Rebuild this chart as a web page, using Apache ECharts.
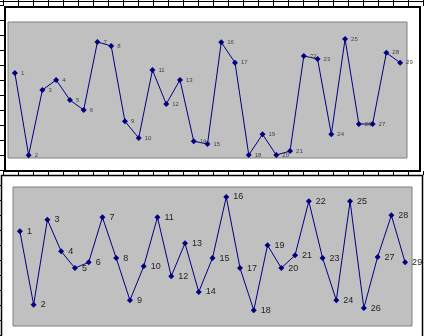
<!DOCTYPE html>
<html>
<head>
<meta charset="utf-8">
<style>
  html, body { margin: 0; padding: 0; background: #ffffff; }
  #chart { width: 424px; height: 336px; }
</style>
<script src="https://cdn.jsdelivr.net/npm/echarts@6/dist/echarts.min.js"></script>
</head>
<body>
<div id="chart"></div>
<script>
// Point numbers along the horizontal axis (shared by both charts)
const categories = ['1','2','3','4','5','6','7','8','9','10','11','12','13','14','15',
  '16','17','18','19','20','21','22','23','24','25','26','27','28','29'];

// Upper chart values
const upperValues = [6.25, 0.20, 5.00, 5.74, 4.26, 3.53, 8.53, 8.24, 2.70, 1.47,
  6.47, 3.97, 5.74, 1.23, 1.03, 8.51, 7.01, 0.22, 1.74, 0.22,
  0.51, 7.50, 7.28, 1.74, 8.75, 2.50, 2.50, 7.74, 7.01];

// Lower chart values
const lowerValues = [6.81, 1.53, 7.65, 5.37, 4.17, 4.58, 7.82, 4.89, 1.85, 4.29,
  7.82, 3.58, 5.95, 2.45, 4.89, 9.28, 4.17, 1.13, 5.81, 4.17,
  5.09, 8.97, 4.89, 1.85, 8.97, 1.29, 4.96, 7.96, 4.58];

const navy = '#000080';

// Worksheet cell lines around the two embedded charts
const sheetLines = [];
function hLine(x1, x2, y, w) {
  sheetLines.push({ type: 'line', z: 0, silent: true,
    shape: { x1: x1, y1: y, x2: x2, y2: y },
    style: { stroke: '#000', lineWidth: w || 1 } });
}
function vLine(x, y1, y2, w) {
  sheetLines.push({ type: 'line', z: 0, silent: true,
    shape: { x1: x, y1: y1, x2: x, y2: y2 },
    style: { stroke: '#000', lineWidth: w || 1 } });
}
// column header strip at the top and the strip between charts
hLine(0, 424, 1.5);
for (let x = 3.5; x < 424; x += 15) {
  vLine(x, 0, 6);
  vLine(x, 171, 175);
}
// row lines peeking out at the left edge
for (let y = 5.5; y < 336; y += 15) {
  if (y < 171) hLine(0, 4, y);
  else if (y > 176) hLine(0, 2, y);
}
// chart frames
sheetLines.push({ type: 'rect', z: 1, silent: true,
  shape: { x: 5, y: 7, width: 415, height: 164 },
  style: { fill: '#ffffff', stroke: '#000', lineWidth: 2 } });
sheetLines.push({ type: 'rect', z: 1, silent: true,
  shape: { x: 1.5, y: 175.5, width: 421, height: 200 },
  style: { fill: '#ffffff', stroke: '#000', lineWidth: 1.5 } });

const chart = echarts.init(document.getElementById('chart'), null, { renderer: 'canvas' });

chart.setOption({
  animation: false,
  backgroundColor: '#ffffff',
  graphic: { elements: sheetLines },
  grid: [
    { left: 8, top: 22, width: 399, height: 136, show: true,
      backgroundColor: '#C0C0C0', borderColor: '#808080', borderWidth: 1, z: 2 },
    { left: 13, top: 187, width: 399, height: 139, show: true,
      backgroundColor: '#C0C0C0', borderColor: '#808080', borderWidth: 1, z: 2 }
  ],
  xAxis: [
    { type: 'category', gridIndex: 0, data: categories, boundaryGap: true, show: false },
    { type: 'category', gridIndex: 1, data: categories, boundaryGap: true, show: false }
  ],
  yAxis: [
    { type: 'value', gridIndex: 0, min: 0, max: 10, show: false },
    { type: 'value', gridIndex: 1, min: 0, max: 10, show: false }
  ],
  series: [
    {
      type: 'line', xAxisIndex: 0, yAxisIndex: 0, data: upperValues, z: 3,
      symbol: 'diamond', symbolSize: 6,
      lineStyle: { color: navy, width: 1 },
      itemStyle: { color: navy },
      label: {
        show: true, position: 'right', distance: 3,
        formatter: function (p) { return categories[p.dataIndex]; },
        fontFamily: 'Liberation Sans', fontSize: 6, color: '#444'
      }
    },
    {
      type: 'line', xAxisIndex: 1, yAxisIndex: 1, data: lowerValues, z: 3,
      symbol: 'diamond', symbolSize: 6,
      lineStyle: { color: navy, width: 1 },
      itemStyle: { color: navy },
      label: {
        show: true, position: 'right', distance: 4,
        formatter: function (p) { return categories[p.dataIndex]; },
        fontFamily: 'Liberation Sans', fontSize: 9, color: '#222'
      }
    }
  ]
});
</script>
</body>
</html>
